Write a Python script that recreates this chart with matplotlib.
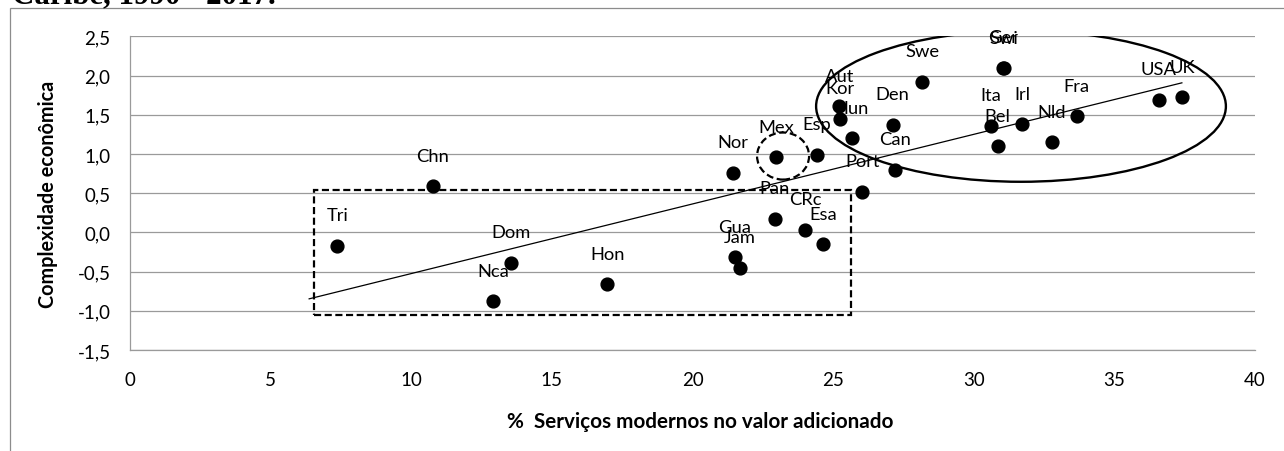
import numpy as np
import matplotlib
matplotlib.use('Agg')
import matplotlib.pyplot as plt
from matplotlib.patches import Rectangle, Ellipse
from matplotlib.ticker import FuncFormatter, MultipleLocator

plt.rcParams['font.family'] = ['Lato', 'DejaVu Sans']

# ── data ─────────────────────────────────────────────────────────────────────
countries = ['Tri', 'Chn', 'Dom', 'Nca', 'Hon', 'Gua', 'Jam', 'Nor', 'Pan',
             'Mex', 'CRc', 'Esa', 'Esp', 'Aut', 'Kor', 'Hun', 'Port', 'Den',
             'Can', 'Swe', 'Ita', 'Bel', 'Ger', 'Swi', 'Irl', 'Nld', 'Fra',
             'USA', 'UK']
services = [7.37, 10.76, 13.54, 12.92, 16.97, 21.50, 21.70, 21.43, 22.93,
            22.97, 24.00, 24.65, 24.42, 25.22, 25.24, 25.66, 26.04, 27.12,
            27.20, 28.16, 30.60, 30.85, 31.05, 31.07, 31.72, 32.78, 33.66,
            36.58, 37.40]
complexity = [-0.17, 0.59, -0.39, -0.88, -0.66, -0.32, -0.45, 0.76, 0.17,
              0.96, 0.03, -0.15, 0.99, 1.61, 1.45, 1.20, 0.52, 1.37,
              0.80, 1.92, 1.36, 1.10, 2.10, 2.09, 1.38, 1.15, 1.48,
              1.69, 1.72]

x_ticks = list(range(0, 41, 5))

# annotation shapes (data coords)
BOX = dict(x0=6.54, y0=-1.05, x1=25.65, y1=0.545)
MEX_RING = dict(cx=23.22, cy=0.973, w=1.85, h=0.60)
RICH_ELLIPSE = dict(cx=31.68, cy=1.608, w=14.57, h=1.926)

W, H = 1284, 452
fig = plt.figure(figsize=(W / 100, H / 100), dpi=100)
ax = fig.add_axes([130 / W, (H - 351) / H, (1255 - 130) / W, (351 - 37.3) / H])

grey = '#9a9a9a'
ax.set_xlim(0, 40)
ax.set_ylim(-1.5, 2.5)
ax.set_xticks(x_ticks)
ax.yaxis.set_major_locator(MultipleLocator(0.5))
ax.yaxis.set_major_formatter(FuncFormatter(lambda v, p: f'{v:.1f}'.replace('.', ',')))
ax.grid(axis='y', color=grey, lw=0.9)
ax.set_axisbelow(True)
for s in ['top', 'right']:
    ax.spines[s].set_visible(False)
for s in ['left', 'bottom']:
    ax.spines[s].set_color(grey)
    ax.spines[s].set_linewidth(0.9)
ax.tick_params(axis='both', length=0, labelsize=12.5, colors='black')
ax.tick_params(axis='y', pad=14)
ax.tick_params(axis='x', pad=15)

ylab = ax.set_ylabel('Complexidade econômica', fontsize=13, fontweight='bold')
xlab = ax.set_xlabel('%  Serviços modernos no valor adicionado', fontsize=13, fontweight='bold')
ax.yaxis.set_label_coords(-0.064, 0.5)
ax.xaxis.set_label_coords(0.507, -0.195)

# points and labels
ax.scatter(services, complexity, s=85, color='black', zorder=4, clip_on=False)
labels = []
for name, xv, yv in zip(countries, services, complexity):
    labels.append(ax.annotate(name, (xv, yv), xytext=(0, 22), textcoords='offset points',
                              ha='center', va='center', fontsize=13.5, zorder=2))

# linear trend, backward forecast of 1 unit like in Excel
slope, inter = np.polyfit(services, complexity, 1)
xs = np.array([min(services) - 1, max(services)])
ax.plot(xs, slope * xs + inter, color='black', lw=0.9, zorder=3)

# shapes
ax.add_patch(Rectangle((BOX['x0'], BOX['y0']), BOX['x1'] - BOX['x0'], BOX['y1'] - BOX['y0'],
                       fill=False, ec='black', lw=1.6, ls=(0, (3.2, 1.6)), zorder=5))
ax.add_patch(Ellipse((MEX_RING['cx'], MEX_RING['cy']), MEX_RING['w'], MEX_RING['h'],
                     fill=False, ec='black', lw=1.6, ls=(0, (3.2, 1.6)), zorder=5))
ax.add_patch(Ellipse((RICH_ELLIPSE['cx'], RICH_ELLIPSE['cy']), RICH_ELLIPSE['w'], RICH_ELLIPSE['h'],
                     fill=False, ec='black', lw=1.7, zorder=5))

# chart frame (cut by the image edge) and cropped caption above
fig.patches.append(Rectangle((10 / W, -0.1), 1.2, (H - 9.3) / H + 0.1, transform=fig.transFigure,
                             fill=False, ec='#8c8c8c', lw=0.9))
title = fig.text(12 / W, 1 - 3.5 / H, 'Caribe, 1990 - 2017.', family='Liberation Serif',
                 fontweight='bold', fontsize=21.5, va='baseline', ha='left')

# size the texts to the widths measured on the reference (pixels)
fig.canvas.draw()
r = fig.canvas.get_renderer()
def scale(txt, target, use_height=False):
    bb = txt.get_window_extent(r)
    cur = bb.height if use_height else bb.width
    return target / cur

xlab.set_fontsize(xlab.get_fontsize() * scale(xlab, 385))
ylab.set_fontsize(ylab.get_fontsize() * scale(ylab, 227, use_height=True))
title.set_fontsize(title.get_fontsize() * scale(title, 265))
k = scale(labels[countries.index('Chn')], 33)
for t in labels:
    t.set_fontsize(t.get_fontsize() * k)
tick40 = [t for t in ax.get_xticklabels() if t.get_text() == '40'][0]
ax.tick_params(labelsize=12.5 * scale(tick40, 21.7))

fig.savefig('out.png', dpi=100)
